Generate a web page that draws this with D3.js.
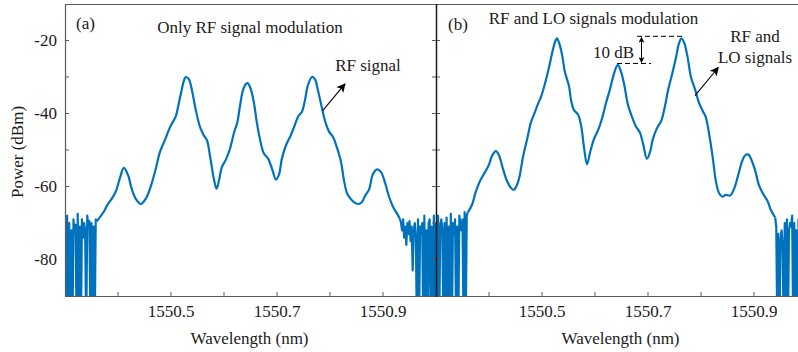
<!DOCTYPE html>
<html>
<head>
<meta charset="utf-8">
<script src="https://cdn.jsdelivr.net/npm/d3@7/dist/d3.min.js"></script>
<style>
  html, body { margin: 0; padding: 0; background: #fff; }
  svg text { font-family: "Liberation Serif", "Times New Roman", serif; fill: #1a1a1a; }
</style>
</head>
<body>
<svg id="chart" width="798" height="352"></svg>
<script>
// Optical spectra, wavelength in nm, power in dBm.
// Smooth part of each trace (key samples) and noise-floor samples at both ends.
const NOISE_STEP = 0.002;

// ---- (a) only RF signal modulation ----
const aWavelength = [1550.360, 1550.366, 1550.374, 1550.381, 1550.389, 1550.396, 1550.404, 1550.411,
  1550.419, 1550.426, 1550.434, 1550.443, 1550.453, 1550.462, 1550.472, 1550.479, 1550.489, 1550.498,
  1550.509, 1550.513, 1550.519, 1550.525, 1550.528, 1550.534, 1550.540, 1550.547, 1550.555, 1550.562,
  1550.568, 1550.574, 1550.581, 1550.586, 1550.591, 1550.596, 1550.604, 1550.611, 1550.619, 1550.625,
  1550.630, 1550.636, 1550.642, 1550.645, 1550.651, 1550.657, 1550.662, 1550.668, 1550.675, 1550.683,
  1550.691, 1550.698, 1550.704, 1550.709, 1550.717, 1550.725, 1550.732, 1550.740, 1550.747, 1550.753,
  1550.758, 1550.766, 1550.772, 1550.777, 1550.783, 1550.791, 1550.798, 1550.806, 1550.813, 1550.821,
  1550.826, 1550.832, 1550.838, 1550.845, 1550.853, 1550.860, 1550.866, 1550.874, 1550.881, 1550.889,
  1550.896, 1550.904, 1550.911, 1550.919, 1550.926, 1550.932];
const aPower = [-69.5, -68.4, -66.7, -64.8, -63.2, -61.3, -57.5, -54.9,
  -56.9, -60.7, -63.5, -64.8, -63.2, -59.9, -54.7, -50.6, -47.1, -43.8,
  -40.8, -38.4, -34.3, -30.7, -30.0, -30.7, -34.0, -39.2, -43.8, -46.0,
  -47.4, -52.0, -58.0, -60.6, -58.0, -54.7, -52.5, -49.8, -45.2, -42.5,
  -38.1, -33.5, -31.8, -31.7, -33.5, -37.5, -42.5, -47.1, -50.9, -52.3,
  -55.3, -58.1, -56.6, -52.5, -48.7, -46.3, -43.8, -40.8, -39.5, -36.2,
  -32.4, -30.0, -30.7, -33.5, -37.3, -42.2, -44.9, -46.5, -49.3, -53.4,
  -58.0, -61.8, -63.2, -64.3, -64.8, -64.3, -62.6, -60.7, -56.6, -55.3,
  -56.0, -59.0, -62.6, -65.6, -67.3, -68.9];
const aNoiseLeftStart = 1550.300;
const aNoiseLeft = [-71, -100, -68, -100, -70, -100, -72, -100, -69, -73, -70.5, -100, -67.5, -100, -71, -100,
  -69, -74, -70, -72, -100, -68, -71, -69.5, -100, -70, -100, -71, -100, -69, -69.5];
const aNoiseRightStart = 1550.932;
const aNoiseRight = [-68.9, -70, -72, -69, -74, -71, -76, -70, -73, -69.5, -75, -71, -83, -72, -70, -74,
  -100, -69, -100, -71, -73, -70, -100, -68, -100, -72, -100, -70, -69, -100, -71, -100, -68, -100, -70];

// ---- (b) RF and LO signals modulation ----
const bWavelength = [1550.360, 1550.368, 1550.375, 1550.383, 1550.392, 1550.400, 1550.406, 1550.413,
  1550.419, 1550.426, 1550.434, 1550.442, 1550.447, 1550.453, 1550.458, 1550.464, 1550.472, 1550.479,
  1550.487, 1550.492, 1550.498, 1550.506, 1550.513, 1550.519, 1550.525, 1550.528, 1550.532, 1550.538,
  1550.543, 1550.551, 1550.555, 1550.560, 1550.568, 1550.574, 1550.579, 1550.585, 1550.591, 1550.598,
  1550.606, 1550.613, 1550.621, 1550.628, 1550.636, 1550.643, 1550.649, 1550.655, 1550.662, 1550.670,
  1550.677, 1550.685, 1550.691, 1550.698, 1550.704, 1550.709, 1550.717, 1550.725, 1550.732, 1550.738,
  1550.745, 1550.753, 1550.758, 1550.763, 1550.768, 1550.774, 1550.781, 1550.789, 1550.796, 1550.804,
  1550.809, 1550.817, 1550.823, 1550.828, 1550.834, 1550.840, 1550.847, 1550.855, 1550.862, 1550.870,
  1550.877, 1550.883, 1550.889, 1550.894, 1550.902, 1550.909, 1550.917, 1550.925, 1550.932, 1550.940];
const bPower = [-67.1, -65.0, -61.5, -58.5, -56.2, -54.0, -51.5, -50.3,
  -51.5, -55.0, -58.5, -60.5, -60.9, -59.5, -57.0, -52.0, -47.0, -42.5,
  -39.5, -37.5, -35.5, -31.6, -27.5, -23.5, -20.2, -19.4, -20.5, -24.0,
  -28.5, -32.5, -36.5, -39.0, -40.3, -43.5, -49.0, -53.9, -50.5, -47.0,
  -44.5, -41.5, -37.0, -33.5, -29.0, -26.7, -28.5, -32.0, -37.5, -41.0,
  -43.5, -45.3, -48.5, -52.4, -50.5, -47.1, -44.0, -42.0, -38.0, -33.5,
  -29.5, -24.5, -21.0, -19.4, -20.5, -24.0, -30.0, -33.5, -37.0, -39.5,
  -41.0, -47.1, -53.0, -58.5, -61.8, -62.8, -62.3, -62.5, -60.8, -57.0,
  -53.3, -51.5, -51.2, -52.3, -55.5, -59.5, -62.0, -63.8, -66.5, -68.5];
const bNoiseLeftStart = 1550.300;
const bNoiseLeft = [-70, -100, -68, -100, -71, -69, -72, -100, -70, -100, -68.5, -100, -71, -100, -67.5, -100,
  -70, -73, -69, -100, -71, -100, -68, -70, -72, -69, -100, -67, -100, -68, -67.1];
const bNoiseRightStart = 1550.940;
const bNoiseRight = [-68.5, -71, -100, -73, -100, -75, -72, -76, -100, -70, -100, -69, -100, -72, -70, -71,
  -68, -100, -70, -100, -72, -100, -69, -100, -71, -100, -70, -100, -72, -100, -70];

// Axis ticks
const xTicks = [1550.4, 1550.5, 1550.6, 1550.7, 1550.8, 1550.9];
const xTickLabels = ["", "1550.5", "", "1550.7", "", "1550.9"];
const yTicks = [-80, -70, -60, -50, -40, -30, -20];
const yTickLabels = ["-80", "", "-60", "", "-40", "", "-20"];
const xDomain = [1550.3, 1551.0];
const yDomain = [-90, -10];

const svg = d3.select("#chart");
const W = 798, TOP = 4, BOTTOM = 296;
const LINE_COLOR = "#0072BD";
const AXIS_COLOR = "#5a5a5a";

const y = d3.scaleLinear().domain(yDomain).range([BOTTOM, TOP]);

const defs = svg.append("defs");
defs.append("marker").attr("id", "head").attr("viewBox", "0 0 10 10")
  .attr("refX", 9).attr("refY", 5).attr("markerWidth", 9).attr("markerHeight", 9)
  .attr("markerUnits", "userSpaceOnUse").attr("orient", "auto-start-reverse")
  .append("path").attr("d", "M0,0 L10,5 L0,10 L2.5,5 Z").attr("fill", "#000");
defs.append("marker").attr("id", "headSmall").attr("viewBox", "0 0 10 10")
  .attr("refX", 9).attr("refY", 5).attr("markerWidth", 6).attr("markerHeight", 6)
  .attr("markerUnits", "userSpaceOnUse").attr("orient", "auto-start-reverse")
  .append("path").attr("d", "M0,0 L10,5 L0,10 L2.5,5 Z").attr("fill", "#000");

function noisePoints(start, values) {
  return values.map((p, i) => [start + i * NOISE_STEP, p]);
}

function drawPanel(id, left, smoothX, smoothY, nlStart, nl, nrStart, nr, showYLabels) {
  const x = d3.scaleLinear().domain(xDomain).range([left, left + 371]);
  const g = svg.append("g").attr("class", "panel-" + id);
  const clipId = "clip-" + id;
  defs.append("clipPath").attr("id", clipId).append("rect")
    .attr("x", left).attr("y", TOP).attr("width", Math.min(371, W - left)).attr("height", BOTTOM - TOP);

  const plot = g.append("g").attr("clip-path", `url(#${clipId})`);
  const smooth = smoothX.map((w, i) => [w, smoothY[i]]);
  const lineSmooth = d3.line().x(d => x(d[0])).y(d => y(d[1])).curve(d3.curveCatmullRom.alpha(0.5));
  const lineRaw = d3.line().x(d => x(d[0])).y(d => y(d[1]));
  const style = (sel, w) => sel.attr("fill", "none").attr("stroke", LINE_COLOR)
    .attr("stroke-width", w).attr("stroke-linejoin", "round");
  plot.append("path").datum(noisePoints(nlStart, nl)).attr("d", lineRaw).call(style, 2.2);
  plot.append("path").datum(smooth).attr("d", lineSmooth).call(style, 2.2);
  plot.append("path").datum(noisePoints(nrStart, nr)).attr("d", lineRaw).call(style, 2.2);

  // bottom axis: inward ticks with labels below
  const xAxis = g.append("g");
  xTicks.forEach((t, i) => {
    xAxis.append("line").attr("x1", x(t)).attr("x2", x(t)).attr("y1", BOTTOM).attr("y2", BOTTOM - 4)
      .attr("stroke", AXIS_COLOR).attr("stroke-width", 1);
    if (xTickLabels[i]) {
      xAxis.append("text").attr("x", x(t)).attr("y", 311).attr("dy", "0.35em")
        .attr("text-anchor", "middle").attr("font-size", 17).text(xTickLabels[i]);
    }
  });
  g.append("text").attr("x", x(1550.65) - 1).attr("y", 338).attr("dy", "0.35em")
    .attr("text-anchor", "middle").attr("font-size", 17).text("Wavelength (nm)");

  // left axis ticks (inward)
  yTicks.forEach((t, i) => {
    g.append("line").attr("x1", left).attr("x2", left + 4).attr("y1", y(t)).attr("y2", y(t))
      .attr("stroke", AXIS_COLOR).attr("stroke-width", 1);
    if (showYLabels && yTickLabels[i]) {
      g.append("text").attr("x", left - 8).attr("y", y(t)).attr("dy", "0.35em")
        .attr("text-anchor", "end").attr("font-size", 17).text(yTickLabels[i]);
    }
  });
  return x;
}

const xa = drawPanel("a", 65, aWavelength, aPower, aNoiseLeftStart, aNoiseLeft, aNoiseRightStart, aNoiseRight, true);
const xb = drawPanel("b", 436, bWavelength, bPower, bNoiseLeftStart, bNoiseLeft, bNoiseRightStart, bNoiseRight, false);

// frame lines
svg.append("line").attr("x1", 65).attr("x2", W).attr("y1", TOP + 0.5).attr("y2", TOP + 0.5)
  .attr("stroke", AXIS_COLOR).attr("stroke-width", 1.2);
svg.append("line").attr("x1", 65).attr("x2", W).attr("y1", BOTTOM + 0.5).attr("y2", BOTTOM + 0.5)
  .attr("stroke", AXIS_COLOR).attr("stroke-width", 1.2);
svg.append("line").attr("x1", 65.5).attr("x2", 65.5).attr("y1", TOP).attr("y2", BOTTOM)
  .attr("stroke", AXIS_COLOR).attr("stroke-width", 1.2);
// right edge of (a) with inward ticks; left axis of (b)
yTicks.forEach(t => {
  svg.append("line").attr("x1", 432).attr("x2", 436).attr("y1", y(t)).attr("y2", y(t))
    .attr("stroke", AXIS_COLOR).attr("stroke-width", 1);
});
svg.append("line").attr("x1", 436.5).attr("x2", 436.5).attr("y1", TOP).attr("y2", BOTTOM + 1)
  .attr("stroke", "#1a1a1a").attr("stroke-width", 1.5);

// y label
svg.append("text").attr("transform", "translate(17,152) rotate(-90)").attr("dy", "0.35em")
  .attr("text-anchor", "middle").attr("font-size", 17).text("Power (dBm)");

// ---- annotations (a) ----
svg.append("text").attr("x", 76).attr("y", 23).attr("dy", "0.35em").attr("font-size", 17).text("(a)");
svg.append("text").attr("x", 250).attr("y", 27).attr("dy", "0.35em").attr("text-anchor", "middle")
  .attr("font-size", 17).text("Only RF signal modulation");
svg.append("text").attr("x", 368).attr("y", 65).attr("dy", "0.35em").attr("text-anchor", "middle")
  .attr("font-size", 17).text("RF signal");
svg.append("line").attr("x1", xa(1550.7862)).attr("y1", y(-39.2)).attr("x2", xa(1550.8283)).attr("y2", y(-31.9))
  .attr("stroke", "#000").attr("stroke-width", 1.1).attr("marker-end", "url(#head)");

// ---- annotations (b) ----
svg.append("text").attr("x", 448).attr("y", 24).attr("dy", "0.35em").attr("font-size", 17).text("(b)");
svg.append("text").attr("x", 593.5).attr("y", 18).attr("dy", "0.35em").attr("text-anchor", "middle")
  .attr("font-size", 17).text("RF and LO signals modulation");
svg.append("text").attr("x", 755).attr("y", 36).attr("dy", "0.35em").attr("text-anchor", "middle")
  .attr("font-size", 17).text("RF and");
svg.append("text").attr("x", 755).attr("y", 57).attr("dy", "0.35em").attr("text-anchor", "middle")
  .attr("font-size", 17).text("LO signals");
svg.append("line").attr("x1", xb(1550.7887)).attr("y1", y(-35.1)).attr("x2", xb(1550.8326)).attr("y2", y(-27.4))
  .attr("stroke", "#000").attr("stroke-width", 1.1).attr("marker-end", "url(#head)");

// peak-difference marker between the middle and the upper sideband peaks
const peakHigh = d3.max(bPower);
const midIdx = bWavelength.indexOf(1550.643);
const peakMid = bPower[midIdx];
const yHigh = y(peakHigh) - 2, yMid = y(peakMid) - 1.5;
const dash = sel => sel.attr("stroke", "#000").attr("stroke-width", 1).attr("stroke-dasharray", "5,3");
svg.append("line").attr("x1", 637).attr("x2", 683).attr("y1", yHigh).attr("y2", yHigh).call(dash);
svg.append("line").attr("x1", 617).attr("x2", 651).attr("y1", yMid).attr("y2", yMid).call(dash);
svg.append("line").attr("x1", 641.5).attr("x2", 641.5).attr("y1", yHigh + 1).attr("y2", yMid - 1)
  .attr("stroke", "#000").attr("stroke-width", 1)
  .attr("marker-start", "url(#headSmall)").attr("marker-end", "url(#headSmall)");
svg.append("text").attr("x", 613.5).attr("y", 52).attr("dy", "0.35em").attr("text-anchor", "middle")
  .attr("font-size", 17).text("10 dB");
</script>
</body>
</html>
